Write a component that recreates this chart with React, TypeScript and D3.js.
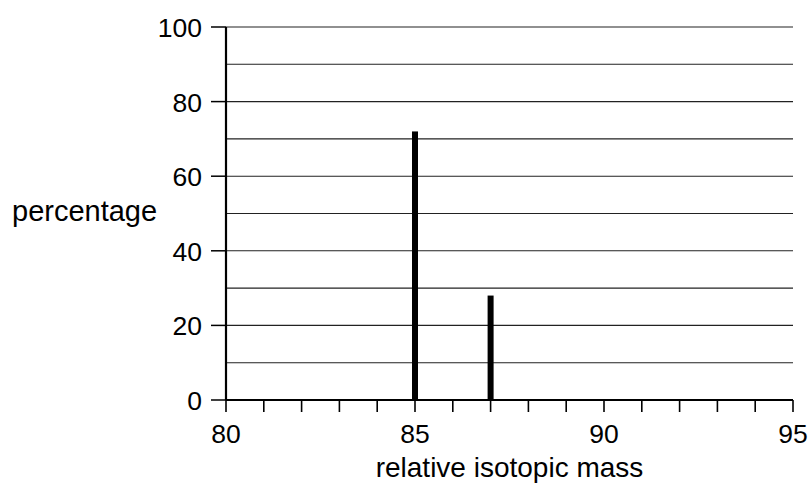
import React from "react";
import * as d3 from "d3";

const masses = [85, 87];
const percentages = [72, 28];
const xTickLabels = [80, 85, 90, 95];
const xMinorTicks = d3.range(80, 96, 1);
const yTickLabels = [0, 20, 40, 60, 80, 100];
const yGridValues = [10, 20, 30, 40, 50, 60, 70, 80, 90, 100];

const W = 812;
const H = 485;
const FONT = "'Liberation Sans', Arial, Helvetica, sans-serif";

export default function App() {
  const x = d3.scaleLinear().domain([80, 95]).range([226, 793]);
  const y = d3.scaleLinear().domain([0, 100]).range([400, 27]);
  const barW = 6;
  return (
    <svg
      width={W}
      height={H}
      style={{ position: "absolute", left: 0, top: 0, display: "block", background: "#fff" }}
      fontFamily={FONT}
    >
      {/* gridlines */}
      {yGridValues.map((v) => (
        <line key={"g" + v} x1={x(80)} x2={x(95)} y1={y(v)} y2={y(v)} stroke="#222" strokeWidth={1.1} />
      ))}
      {/* y ticks */}
      {yTickLabels.map((v) => (
        <g key={"yt" + v}>
          <line x1={211} x2={x(80)} y1={y(v)} y2={y(v)} stroke="#000" strokeWidth={1.5} />
          <text x={202} y={y(v) + 1} textAnchor="end" dominantBaseline="central" fontSize={26.5} fill="#000">
            {v}
          </text>
        </g>
      ))}
      {/* x minor ticks */}
      {xMinorTicks.map((v) => (
        <line key={"xt" + v} x1={x(v)} x2={x(v)} y1={y(0)} y2={y(0) + 12} stroke="#000" strokeWidth={1.6} />
      ))}
      {xTickLabels.map((v) => (
        <text key={"xl" + v} x={x(v)} y={443} textAnchor="middle" fontSize={26.5} fill="#000">
          {v}
        </text>
      ))}
      {/* bars */}
      {masses.map((m, i) => (
        <rect
          key={"b" + m}
          x={x(m) - barW / 2}
          y={y(percentages[i])}
          width={barW}
          height={y(0) - y(percentages[i])}
          fill="#000"
        />
      ))}
      {/* axes */}
      <line x1={x(80)} x2={x(80)} y1={y(100)} y2={y(0)} stroke="#000" strokeWidth={2.2} />
      <line x1={x(80)} x2={x(95)} y1={y(0)} y2={y(0)} stroke="#000" strokeWidth={2.2} />
      {/* titles */}
      <text x={12} y={221} fontSize={29} fill="#000">
        percentage
      </text>
      <text x={(x(80) + x(95)) / 2} y={477} textAnchor="middle" fontSize={28} fill="#000">
        relative isotopic mass
      </text>
    </svg>
  );
}
